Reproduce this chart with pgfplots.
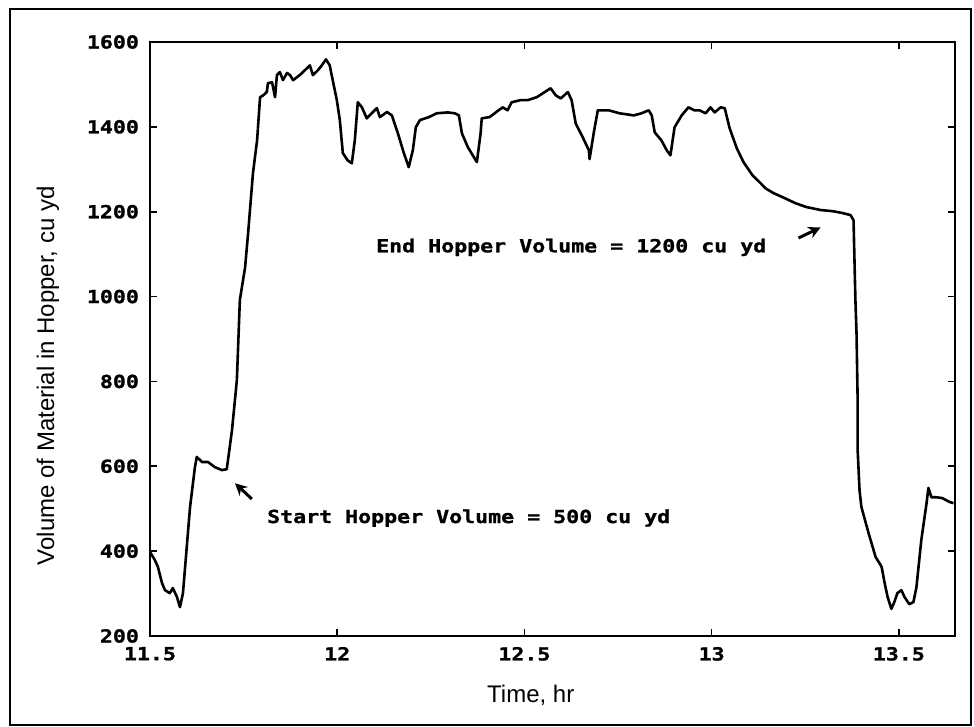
\documentclass[border=0pt]{standalone}
\usepackage{fontspec}
\usepackage{pgfplots}
\pgfplotsset{compat=1.18}
\usetikzlibrary{arrows.meta}
\setmainfont{Liberation Sans}
\newfontfamily\plotmono[FakeStretch=1.2,FakeBold=1.2]{DejaVu Sans Mono}

\pgfplotstableread{
t v
11.500 398
11.513 379
11.521 363
11.532 325
11.540 308
11.553 301
11.561 313
11.572 292
11.580 268
11.588 301
11.607 504
11.620 598
11.625 622
11.639 610
11.655 610
11.673 598
11.692 591
11.705 593
11.719 685
11.732 803
11.740 992
11.754 1069
11.762 1149
11.775 1291
11.786 1368
11.794 1470
11.802 1474
11.812 1482
11.815 1503
11.826 1505
11.834 1470
11.839 1522
11.847 1529
11.855 1510
11.866 1527
11.874 1522
11.882 1510
11.900 1522
11.919 1538
11.927 1545
11.935 1522
11.948 1533
11.959 1545
11.970 1559
11.980 1545
11.988 1510
11.999 1463
12.007 1416
12.015 1338
12.028 1321
12.039 1314
12.047 1368
12.055 1458
12.066 1446
12.079 1420
12.092 1432
12.106 1444
12.114 1423
12.133 1435
12.146 1427
12.162 1385
12.178 1338
12.191 1305
12.202 1345
12.210 1399
12.221 1416
12.245 1423
12.266 1432
12.295 1434
12.314 1432
12.325 1427
12.333 1385
12.349 1352
12.362 1333
12.373 1317
12.383 1385
12.386 1420
12.407 1423
12.431 1439
12.442 1446
12.455 1439
12.466 1458
12.490 1463
12.509 1463
12.533 1470
12.549 1479
12.570 1491
12.584 1474
12.597 1467
12.616 1482
12.626 1463
12.637 1408
12.656 1375
12.672 1345
12.674 1324
12.685 1385
12.696 1439
12.725 1439
12.754 1432
12.792 1427
12.813 1432
12.832 1439
12.840 1427
12.848 1387
12.866 1368
12.880 1345
12.890 1333
12.901 1399
12.920 1427
12.938 1446
12.954 1439
12.968 1439
12.984 1432
12.997 1446
13.008 1434
13.024 1446
13.035 1444
13.048 1397
13.067 1350
13.085 1317
13.109 1286
13.131 1267
13.144 1255
13.165 1244
13.195 1232
13.224 1220
13.253 1211
13.291 1204
13.325 1201
13.349 1197
13.371 1192
13.379 1180
13.384 992
13.387 914
13.390 756
13.390 638
13.395 544
13.400 504
13.419 443
13.438 386
13.448 372
13.454 363
13.462 325
13.470 292
13.480 264
13.488 280
13.496 301
13.507 308
13.515 292
13.528 275
13.539 280
13.547 315
13.560 426
13.574 513
13.579 549
13.587 527
13.600 527
13.616 525
13.635 516
13.646 513
}\hopper

\begin{document}
\begin{tikzpicture}
\useasboundingbox (-75pt,-45.5pt) rectangle (412pt,318pt);
\begin{axis}[
  scale only axis,
  width=402.5pt, height=297pt,
  at={(0,0)}, anchor=south west,
  xmin=11.5, xmax=13.65,
  ymin=200, ymax=1600,
  xtick={11.5,12,12.5,13,13.5},
  ytick={200,400,...,1600},
  tick align=inside,
  major tick length=3.5pt,
  axis line style={line width=1pt},
  every tick/.style={black, line width=0.8pt},
  /pgf/number format/assume math mode=true,
  /pgf/number format/1000 sep={},
  ticklabel style={font=\plotmono\bfseries\fontsize{9}{10}\selectfont},
  yticklabel style={xshift=-2pt},
  xticklabel style={yshift=-2pt},
  xlabel={Time, hr},
  ylabel={Volume of Material in Hopper, cu yd},
  label style={font=\fontsize{12}{14}\selectfont},
  xlabel style={at={(rel axis cs:0.473,-0.0993)}, anchor=center},
  ylabel style={at={(rel axis cs:-0.1267,0.438)}, anchor=center},
]
\addplot[black, line width=1.3pt, line join=round] table[x=t, y=v] {\hopper};

\node[anchor=west, font=\plotmono\bfseries\fontsize{9}{10}\selectfont]
  at (axis cs:11.794,478) {Start Hopper Volume = 500 cu yd};
\node[anchor=east, font=\plotmono\bfseries\fontsize{9}{10}\selectfont]
  at (axis cs:13.165,1116) {End Hopper Volume = 1200 cu yd};
\draw[-{Stealth[length=6pt,width=6pt]}, line width=1.5pt]
  (axis cs:11.772,523) -- (axis cs:11.727,560);
\draw[-{Stealth[length=6pt,width=6pt]}, line width=1.5pt]
  (axis cs:13.232,1138) -- (axis cs:13.291,1163);
\end{axis}
\draw[line width=1pt] (-70pt,-44.5pt) rectangle (410.5pt,313.5pt);
\end{tikzpicture}
\end{document}
